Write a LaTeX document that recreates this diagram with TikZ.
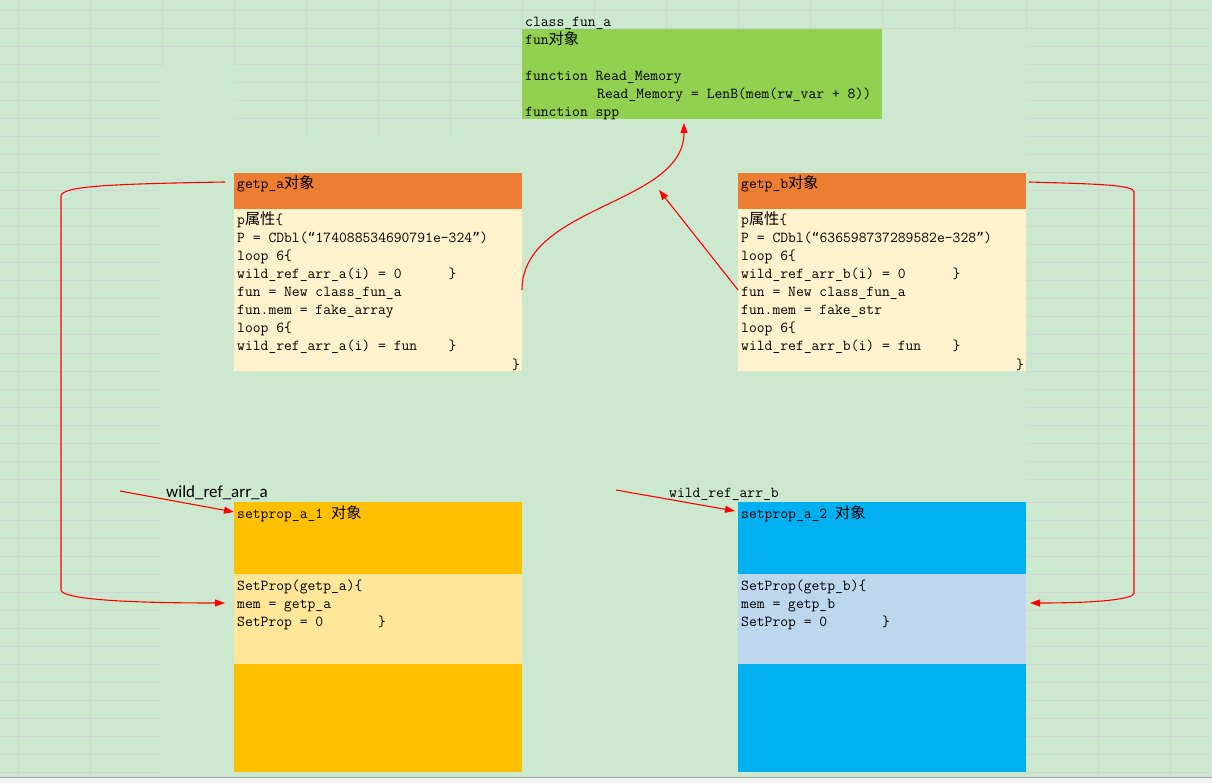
\documentclass[tikz,border=0pt]{standalone}
\usepackage{fontspec}
\newfontfamily\cjk{Noto Sans CJK SC}
\newfontfamily\lblfont{Carlito}
\newfontfamily\qfont{DejaVu Sans Mono}
\newcommand\openq{{\qfont\fontsize{13.3}{18}\selectfont “}}
\newcommand\closeq{{\qfont\fontsize{13.3}{18}\selectfont ”}}
\usetikzlibrary{arrows.meta,calc}
\definecolor{bg}{RGB}{204,232,207}
\definecolor{gridc}{RGB}{212,212,212}
\definecolor{orangeh}{RGB}{237,125,49}
\definecolor{creamb}{RGB}{255,242,204}
\definecolor{greenb}{RGB}{146,208,80}
\definecolor{golda}{RGB}{255,192,0}
\definecolor{goldl}{RGB}{255,230,153}
\definecolor{bluea}{RGB}{0,176,240}
\definecolor{bluel}{RGB}{189,215,238}
\definecolor{arrowred}{RGB}{255,0,0}
\definecolor{bottomgray}{RGB}{243,243,243}
\definecolor{edgegray}{RGB}{165,165,165}
\begin{document}
\begin{tikzpicture}[x=1pt,y=-1pt,
 gridline/.style={draw=gridc, line width=1pt},
 cell/.style={anchor=north west, inner sep=0pt, outer sep=0pt, draw=none},
 code/.style={anchor=base west, inner sep=0pt, font=\fontsize{15.2}{18}\selectfont\ttfamily},
 conn/.style={draw=arrowred, line width=1.1pt, -{Triangle[length=10pt,width=7pt]}},
]
\useasboundingbox (0,0) rectangle (1212,783);
\fill[bg] (0,0) rectangle (1212,783);
% ---- grid ----
\foreach \y in {11,29,...,479,502,520,...,772} {
  \draw[gridline] (0,\y) -- (162,\y);
}
\foreach \y in {29,47,...,479,502,520,...,772} {
  \draw[gridline] (1026,\y) -- (1212,\y);
}
\draw[gridline] (0,11) -- (1212,11);
\draw[gridline] (0,29) -- (1212,29);
\draw[gridline] (0,47) -- (522,47);
\foreach \y in {65,83,101,119} { \draw[gridline] (234,\y) -- (522,\y); }
\foreach \x in {18,90,1098,1170} { \draw[gridline] (\x,0) -- (\x,777); }
\foreach \x in {162,234} { \draw[gridline] (\x,0) -- (\x,65); }
\foreach \x in {306,378,450} { \draw[gridline] (\x,0) -- (\x,137); }
\foreach \x in {522,594,666,738,810,882,954,1026} { \draw[gridline] (\x,0) -- (\x,29); }
\fill[bottomgray] (0,777) rectangle (1212,783);
\draw[edgegray, line width=1.5pt] (0,777.5) -- (1212,777.5);

% ---- boxes ----
\node[cell, fill=greenb, minimum width=360pt, minimum height=90pt] (fun) at (522,29) {};
\node[cell, fill=orangeh, minimum width=288pt, minimum height=36pt] (gahead) at (234,173) {};
\node[cell, fill=creamb, minimum width=288pt, minimum height=162pt] (gabody) at (234,209) {};
\node[cell, fill=orangeh, minimum width=288pt, minimum height=36pt] (gbhead) at (738,173) {};
\node[cell, fill=creamb, minimum width=288pt, minimum height=162pt] (gbbody) at (738,209) {};
\node[cell, fill=golda, minimum width=288pt, minimum height=72pt] (sahead) at (234,502) {};
\node[cell, fill=goldl, minimum width=288pt, minimum height=90pt] (samid) at (234,574) {};
\node[cell, fill=golda, minimum width=288pt, minimum height=108pt] (safoot) at (234,664) {};
\node[cell, fill=bluea, minimum width=288pt, minimum height=72pt] (sbhead) at (738,502) {};
\node[cell, fill=bluel, minimum width=288pt, minimum height=90pt] (sbmid) at (738,574) {};
\node[cell, fill=bluea, minimum width=288pt, minimum height=108pt] (sbfoot) at (738,664) {};

% ---- texts: class_fun_a ----
\node[code] (cfname) at (525,27) {class\_fun\_a};
\node[code] (cf1) at (525,45) {fun{\cjk 对象}};
\node[code] (cf2) at (525,81) {function Read\_Memory};
\node[code] (cf3) at (597,99) {Read\_Memory = LenB(mem(rw\_var + 8))};
\node[code] (cf4) at (525,117) {function spp};

% ---- getp_a ----
\node[code] (ga0) at (237,189) {getp\_a{\cjk 对象}};
\node[code] (ga1) at (237,225) {p{\cjk 属性}\{};
\node[code] (ga2) at (237,243) {P = CDbl(\openq 174088534690791e-324\closeq)};
\node[code] (ga3) at (237,261) {loop 6\{};
\node[code] (ga4) at (237,279) {wild\_ref\_arr\_a(i) = 0\ \ \ \ \ \ \}};
\node[code] (ga5) at (237,297) {fun = New class\_fun\_a};
\node[code] (ga6) at (237,315) {fun.mem = fake\_array};
\node[code] (ga7) at (237,333) {loop 6\{};
\node[code] (ga8) at (237,351) {wild\_ref\_arr\_a(i) = fun\ \ \ \ \}};
\node[code] (ga9) at (512,369) {\}};

% ---- getp_b ----
\node[code] (gb0) at (741,189) {getp\_b{\cjk 对象}};
\node[code] (gb1) at (741,225) {p{\cjk 属性}\{};
\node[code] (gb2) at (741,243) {P = CDbl(\openq 636598737289582e-328\closeq)};
\node[code] (gb3) at (741,261) {loop 6\{};
\node[code] (gb4) at (741,279) {wild\_ref\_arr\_b(i) = 0\ \ \ \ \ \ \}};
\node[code] (gb5) at (741,297) {fun = New class\_fun\_a};
\node[code] (gb6) at (741,315) {fun.mem = fake\_str};
\node[code] (gb7) at (741,333) {loop 6\{};
\node[code] (gb8) at (741,351) {wild\_ref\_arr\_b(i) = fun\ \ \ \ \}};
\node[code] (gb9) at (1016,369) {\}};

% ---- setprop a ----
\node[anchor=base west, inner sep=0pt, font=\fontsize{17}{18}\selectfont\lblfont] (lbla) at (166,497) {wild\_ref\_arr\_a};
\node[code] (sa0) at (237,518) {setprop\_a\_1 {\cjk 对象}};
\node[code] (sa1) at (237,590) {SetProp(getp\_a)\{};
\node[code] (sa2) at (237,608) {mem = getp\_a};
\node[code] (sa3) at (237,626) {SetProp = 0\ \ \ \ \ \ \ \}};

% ---- setprop b ----
\node[code] (lblb) at (669,497) {wild\_ref\_arr\_b};
\node[code] (sb0) at (741,518) {setprop\_a\_2 {\cjk 对象}};
\node[code] (sb1) at (741,590) {SetProp(getp\_b)\{};
\node[code] (sb2) at (741,608) {mem = getp\_b};
\node[code] (sb3) at (741,626) {SetProp = 0\ \ \ \ \ \ \ \}};

% ---- connector end points ----
\coordinate (funtip) at ([xshift=-18pt,yshift=-4pt]fun.south);
\coordinate (gbtip) at (659,190);
\coordinate (lstart) at ([xshift=-9pt,yshift=9pt]gahead.west);
\coordinate (lend) at ([xshift=-9pt,yshift=16pt]samid.west);
\coordinate (rstart) at ([xshift=3pt,yshift=9pt]gbhead.east);
\coordinate (rend) at ([xshift=4pt,yshift=16pt]sbmid.east);
\coordinate (wa) at (120,491);
\coordinate (wb) at (616,490);

% ---- connectors ----
\draw[conn] (gabody.east) .. controls ($(gabody.east)+(0,-85)$) and ($(funtip)+(0,82)$) .. (funtip);
\draw[conn] (gbbody.west) -- (gbtip);
\draw[conn] (lstart) .. controls (110,184) and (62,186) .. (61,196) -- (61,590) .. controls (62,598) and (110,603) .. (lend);
\draw[conn] (rstart) .. controls (1100,184) and (1134,185) .. (1134,192) -- (1134,593) .. controls (1134,599) and (1100,603) .. (rend);
\draw[conn] (wa) -- ([yshift=-10pt]sahead.north west);
\draw[conn] (wb) -- ([xshift=-3pt,yshift=-9pt]sbhead.north west);
\end{tikzpicture}
\end{document}
